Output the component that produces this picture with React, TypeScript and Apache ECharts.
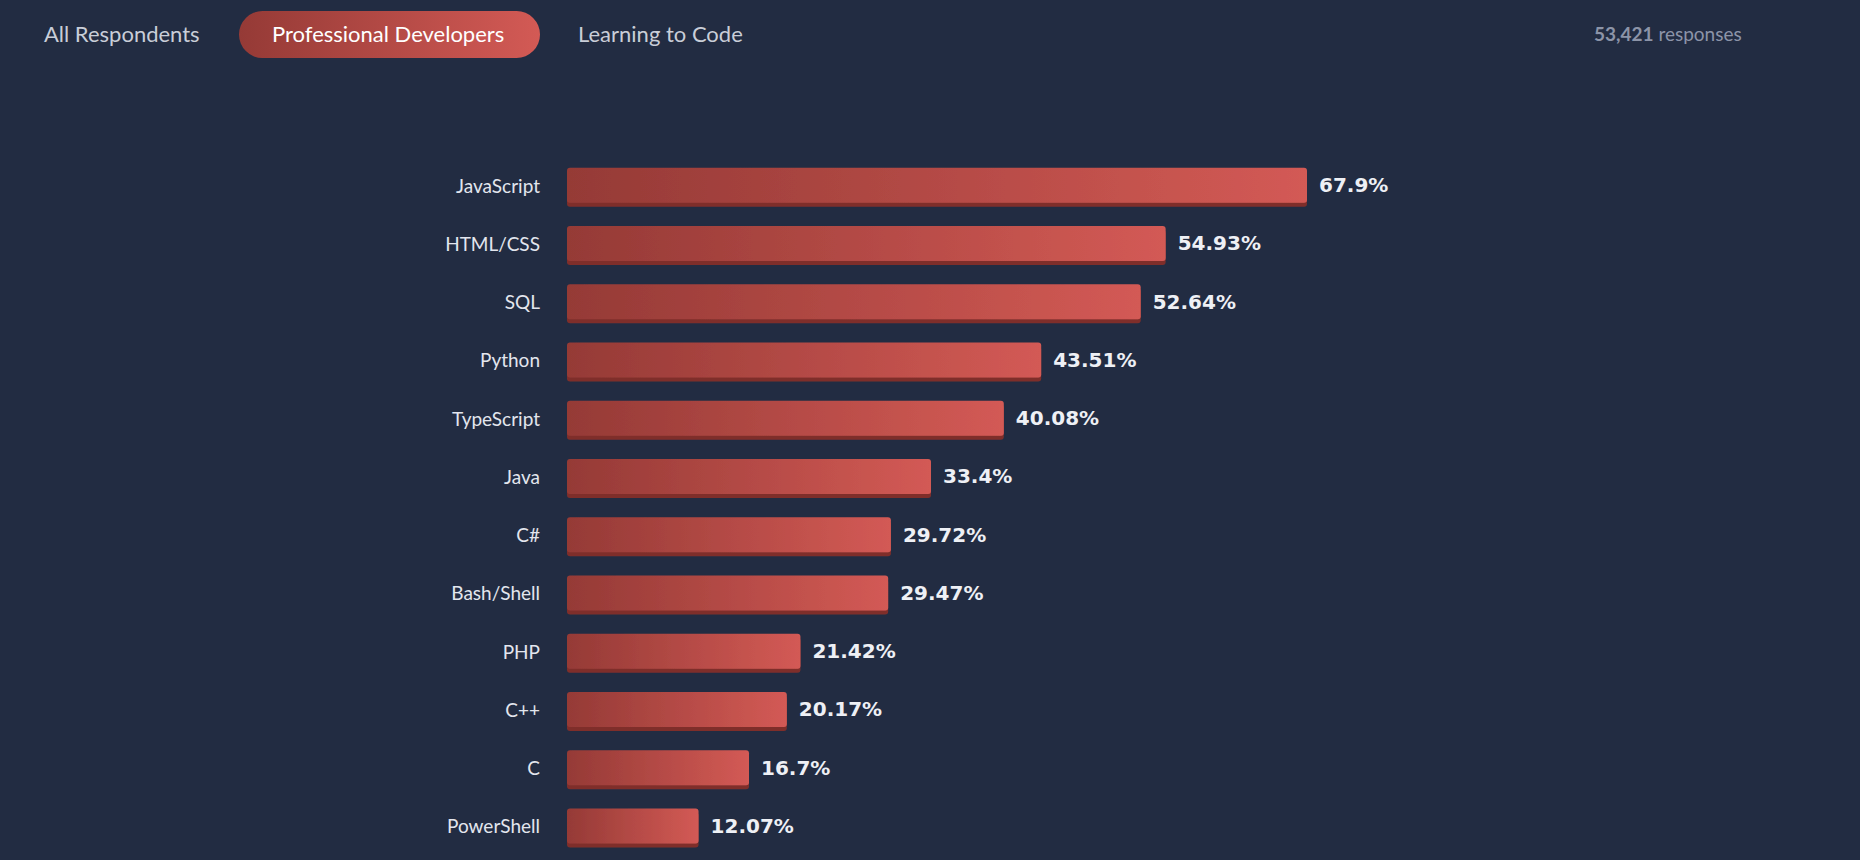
import { useEffect, useRef } from 'react'
import * as echarts from 'echarts'

const languages = [
  'JavaScript', 'HTML/CSS', 'SQL', 'Python', 'TypeScript', 'Java',
  'C#', 'Bash/Shell', 'PHP', 'C++', 'C', 'PowerShell',
]
const shares = [67.9, 54.93, 52.64, 43.51, 40.08, 33.4, 29.72, 29.47, 21.42, 20.17, 16.7, 12.07]
const tabs = ['All Respondents', 'Professional Developers', 'Learning to Code']
const responseCount = '53,421'

const redGradient = new echarts.graphic.LinearGradient(0, 0, 1, 0, [
  { offset: 0, color: '#953a36' },
  { offset: 1, color: '#d35a55' },
])

export default function App() {
  const chartRef = useRef<HTMLDivElement>(null)

  useEffect(() => {
    if (!chartRef.current) return
    document.body.style.margin = '0'
    const chart = echarts.init(chartRef.current, null, { renderer: 'svg' })

    chart.setOption({
      animation: false,
      backgroundColor: '#222c42',
      graphic: [
        { type: 'text', left: 44, top: 22, style: { text: tabs[0], fill: '#c9ced8', font: '22px Lato' } },
        {
          type: 'rect', shape: { x: 239, y: 11, width: 301, height: 47, r: 23.5 },
          style: { fill: redGradient },
        },
        { type: 'text', left: 272, top: 22, style: { text: tabs[1], fill: '#ffffff', font: '22px Lato' } },
        { type: 'text', left: 578, top: 22, style: { text: tabs[2], fill: '#c9ced8', font: '22px Lato' } },
        {
          type: 'text', left: 1594, top: 24,
          style: {
            text: '{b|' + responseCount + '} responses',
            fill: '#8c94a8', font: '19px Lato',
            rich: { b: { fontWeight: 'bold', fontSize: 19, fontFamily: 'Lato', fill: '#8c94a8' } },
          },
        },
      ],
      grid: { left: 567, right: 553, top: 156, bottom: 5 },
      xAxis: { type: 'value', min: 0, max: 67.9, show: false },
      yAxis: {
        type: 'category',
        data: languages,
        inverse: true,
        axisLine: { show: false },
        axisTick: { show: false },
        axisLabel: { color: '#e3e6ee', fontSize: 19, fontFamily: 'Lato', margin: 27 },
      },
      series: [
        {
          type: 'bar',
          data: shares,
          barWidth: 35,
          itemStyle: {
            color: redGradient,
            borderRadius: 3,
            shadowColor: '#7f2f2c',
            shadowOffsetY: 4,
            shadowBlur: 0,
          },
          label: {
            show: true,
            position: 'right',
            distance: 12,
            formatter: '{c}%',
            color: '#eef0f5',
            fontSize: 20,
            fontWeight: 'bold',
            fontFamily: 'DejaVu Sans',
          },
        },
      ],
    })

    return () => chart.dispose()
  }, [])

  return <div ref={chartRef} style={{ width: 1860, height: 860 }} />
}
